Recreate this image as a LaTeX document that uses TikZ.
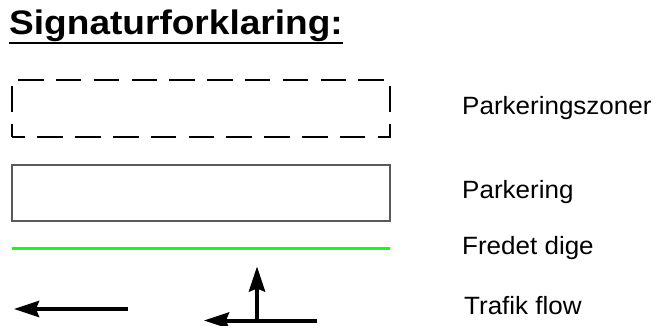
\documentclass[tikz,border=0pt]{standalone}
\usepackage{fontspec}
\setmainfont{Liberation Sans}
\usetikzlibrary{arrows.meta,positioning}
\definecolor{dikegreen}{RGB}{40,240,40}

\begin{document}
\begin{tikzpicture}
  [
  x=1pt, y=-1pt,
  title/.style={inner sep=0pt, anchor=base west, font=\fontsize{34}{40}\selectfont\bfseries},
  legend/.style={inner sep=0pt, anchor=base west, font=\fontsize{25}{30}\selectfont},
  zone/.style={draw=black, line width=2.5pt, dash pattern=on 25.5pt off 12.3pt, dash phase=12.5pt},
  parking/.style={draw=black!65, line width=1.5pt},
  dike/.style={draw=dikegreen, line width=2.5pt},
  flow/.style={line width=4pt, -{Stealth[length=25pt,width=16pt,inset=3pt]}}
  ]
\useasboundingbox (0,0) rectangle (667,326);

\node[title] (title) at (9,35) {\scalebox{1.09}[1]{Signaturforklaring:}};
\draw[line width=2pt] ([yshift=-8pt]title.base west) -- ([yshift=-8pt]title.base east);

\foreach \name/\x/\y/\txt in {zone/462/114.5/Parkeringszoner, park/462/199/Parkering,
  dike/462/254/Fredet dige, flow/464/314/Trafik flow} {
  \node[legend] (l-\name) at (\x,\y) {\scalebox{1.04}[1]{\txt}};
}

% symbols
\draw[zone] (12,137) rectangle (390,80);
\draw[parking] (12,165) rectangle (390,221);

\coordinate (d1) at (12,248.5);
\coordinate (d2) at (390,248.5);
\draw[dike] (d1) -- (d2);

\coordinate (f1s) at (128,309);
\coordinate (f1e) at (14,309);
\coordinate (f2s) at (317,320.5);
\coordinate (f2e) at (204,320.5);
\coordinate (f2j) at (257,320.5);
\coordinate (f2u) at (257,266.5);
\draw[flow] (f1s) -- (f1e);
\draw[flow] (f2s) -- (f2e);
\draw[flow] (f2j) -- (f2u);
\end{tikzpicture}
\end{document}
